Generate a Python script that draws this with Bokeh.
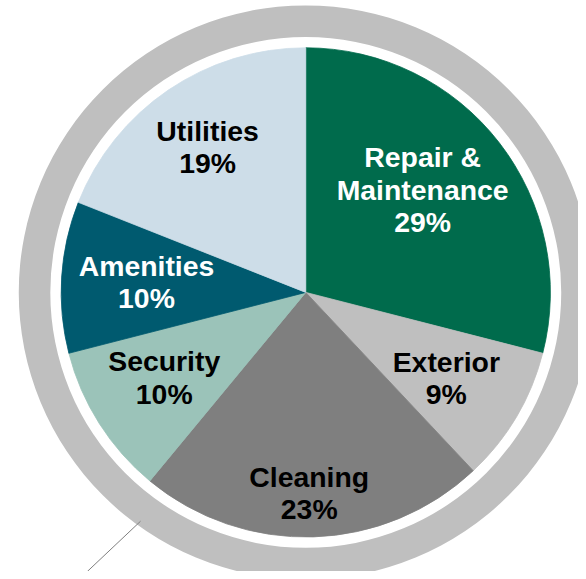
import math
from bokeh.plotting import figure
from bokeh.models import Range1d, ColumnDataSource
from bokeh.core.properties import value
from bokeh.embed import file_html
from bokeh.resources import INLINE

# ---- data ----
categories = ["Repair &\nMaintenance", "Exterior", "Cleaning", "Security", "Amenities", "Utilities"]
shares = [29, 9, 23, 10, 10, 19]
colors = ["#006B4C", "#BFBFBF", "#7F7F7F", "#9BC3B9", "#005A6F", "#CDDDE8"]
text_colors = ["white", "black", "black", "black", "white", "black"]

# ---- layout: data units = reference-image pixels (y upward) ----
W, H = 578, 571
REF_W, REF_H = 586, 579
cx, cy = 309.5, REF_H - 296
R = 248
ring_inner, ring_outer = 259, 291
# first-line anchor of each label (reference screen coords)
label_anchor = [(428, 159), (452, 366.5), (313, 483), (166, 366), (148, 269), (210, 132)]
line_step = 33

p = figure(width=W, height=H, output_backend="svg", toolbar_location=None,
           x_range=Range1d(0, REF_W), y_range=Range1d(0, REF_H),
           min_border=0, outline_line_color=None)
p.axis.visible = False
p.grid.visible = False
p.background_fill_color = "white"
p.border_fill_color = "white"

# outer ring
p.annulus(x=cx, y=cy, inner_radius=ring_inner, outer_radius=ring_outer,
          fill_color="#BFBFBF", line_color=None)

# pie slices, clockwise from 12 o'clock
total = float(sum(shares))
starts, ends = [], []
cum = 0.0
for s in shares:
    a0 = math.pi / 2 - 2 * math.pi * (cum + s) / total
    a1 = math.pi / 2 - 2 * math.pi * cum / total
    starts.append(a0)
    ends.append(a1)
    cum += s

src = ColumnDataSource(dict(start=starts, end=ends, color=colors))
p.wedge(x=cx, y=cy, radius=R, start_angle="start", end_angle="end",
        fill_color="color", line_color="color", line_width=0.8, source=src)

# labels
xs, ys, txt, tc = [], [], [], []
for cat, sh, col, (lx, ly) in zip(categories, shares, text_colors, label_anchor):
    lines = cat.split("\n") + [f"{sh}%"]
    for i, ln in enumerate(lines):
        xs.append(lx)
        ys.append(REF_H - (ly + i * line_step))
        txt.append(ln)
        tc.append(col)
lsrc = ColumnDataSource(dict(x=xs, y=ys, text=txt, color=tc))
p.text(x="x", y="y", text="text", text_color="color", source=lsrc,
       text_font=value("Liberation Sans"), text_font_style="bold",
       text_font_size="28.4px", text_align="center", text_baseline="alphabetic")

# callout line
p.segment(x0=142, y0=REF_H - 528, x1=88, y1=REF_H - 579, line_color="#7F7F7F", line_width=1)

open("out.html", "w").write(file_html(p, INLINE))
